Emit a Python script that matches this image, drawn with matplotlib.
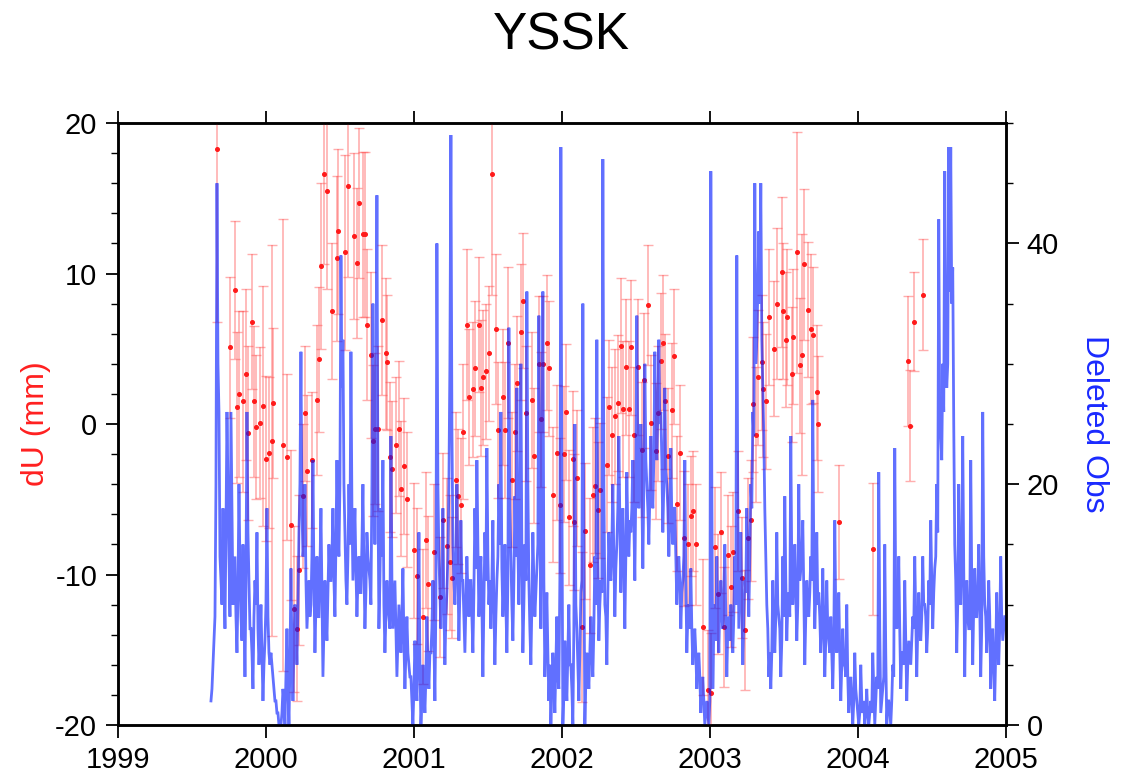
import numpy as np
import matplotlib.pyplot as plt
from matplotlib.ticker import MultipleLocator

plt.rcParams['font.family'] = ['Liberation Sans', 'DejaVu Sans']
plt.rcParams['axes.unicode_minus'] = False

# dU solutions (decimal year, mm, 1-sigma mm)
du_time = [1999.669, 1999.757, 1999.791, 1999.804, 1999.818, 1999.845, 1999.865, 1999.878,
           1999.905, 1999.919, 1999.932, 1999.959, 1999.980, 2000.000, 2000.020, 2000.037,
           2000.047, 2000.115, 2000.142, 2000.169, 2000.189, 2000.209, 2000.223, 2000.250,
           2000.264, 2000.277, 2000.311, 2000.345, 2000.358, 2000.372, 2000.392, 2000.412,
           2000.446, 2000.480, 2000.486, 2000.534, 2000.554, 2000.595, 2000.615, 2000.628,
           2000.655, 2000.669, 2000.682, 2000.709, 2000.723, 2000.736, 2000.757, 2000.784,
           2000.811, 2000.818, 2000.838, 2000.851, 2000.878, 2000.899, 2000.912, 2000.932,
           2000.953, 2001.000, 2001.020, 2001.061, 2001.081, 2001.095, 2001.135, 2001.176,
           2001.196, 2001.223, 2001.243, 2001.257, 2001.284, 2001.297, 2001.318, 2001.331,
           2001.358, 2001.372, 2001.399, 2001.412, 2001.439, 2001.453, 2001.466, 2001.486,
           2001.507, 2001.527, 2001.554, 2001.568, 2001.601, 2001.615, 2001.635, 2001.662,
           2001.682, 2001.696, 2001.723, 2001.736, 2001.757, 2001.797, 2001.811, 2001.845,
           2001.858, 2001.872, 2001.899, 2001.912, 2001.939, 2001.966, 2001.986, 2002.014,
           2002.027, 2002.047, 2002.074, 2002.081, 2002.101, 2002.135, 2002.155, 2002.189,
           2002.209, 2002.223, 2002.243, 2002.257, 2002.304, 2002.318, 2002.338, 2002.358,
           2002.378, 2002.399, 2002.412, 2002.432, 2002.453, 2002.466, 2002.486, 2002.514,
           2002.541, 2002.554, 2002.581, 2002.601, 2002.635, 2002.649, 2002.669, 2002.682,
           2002.696, 2002.716, 2002.743, 2002.757, 2002.777, 2002.797, 2002.824, 2002.851,
           2002.872, 2002.885, 2002.905, 2002.953, 2002.986, 2003.007, 2003.034, 2003.054,
           2003.074, 2003.095, 2003.122, 2003.142, 2003.155, 2003.189, 2003.216, 2003.236,
           2003.257, 2003.277, 2003.291, 2003.311, 2003.324, 2003.351, 2003.358, 2003.378,
           2003.399, 2003.432, 2003.453, 2003.486, 2003.493, 2003.514, 2003.520, 2003.554,
           2003.561, 2003.588, 2003.608, 2003.622, 2003.635, 2003.662, 2003.682, 2003.696,
           2003.723, 2003.730, 2003.872, 2004.101, 2004.338, 2004.351, 2004.378, 2004.439]
du_mm = [18.3, 5.1, 8.9, 1.1, 2.0, 1.5, 3.3, -0.6,
         6.8, 1.5, -0.2, 0.1, 1.2, -2.3, -1.9, -1.1,
         1.4, -1.4, -2.2, -6.7, -12.3, -13.6, -9.7, -4.8,
         0.7, -3.1, -2.4, 1.6, 4.3, 10.5, 16.6, 15.5,
         7.5, 11.0, 12.8, 11.4, 15.8, 12.5, 10.7, 14.7,
         12.6, 12.6, 6.6, 4.6, -1.1, -0.3, -0.3, 6.9,
         4.7, 4.1, -2.2, -3.0, -1.4, -0.3, -4.3, -2.8,
         -5.0, -8.4, -10.1, -12.8, -7.7, -10.6, -8.5, -11.5,
         -6.4, -8.1, -9.2, -10.2, -3.7, -4.8, -5.4, -0.5,
         6.6, 1.8, 2.3, 3.7, 6.6, 2.4, 3.1, 3.5,
         4.7, 16.6, 6.3, -0.4, 1.8, -0.4, 5.4, -3.7,
         -0.5, 2.7, 6.1, 8.2, 0.7, 1.6, -2.1, 4.0,
         0.3, 4.0, 5.4, 3.7, -4.7, -1.9, -5.4, -2.0,
         0.8, -6.2, -2.3, -6.5, -3.6, -13.5, -7.1, -9.4,
         -4.7, -4.1, -5.7, -4.4, -2.7, 1.1, -0.7, 0.5,
         1.4, 5.2, 1.0, 3.8, 1.0, 5.1, -0.7, 3.8,
         -1.7, 2.9, 7.9, 0.1, -1.8, 0.7, 4.2, 5.4,
         1.5, -2.1, 0.9, 4.5, -5.3, -1.9, -7.6, -8.0,
         -6.1, -5.8, -8.0, -13.5, -17.7, -17.9, -8.2, -11.3,
         -7.2, -13.5, -8.7, -10.8, -8.5, -5.8, -10.2, -13.7,
         -7.6, -6.4, 1.3, -0.7, 3.1, 4.1, 2.3, 1.5,
         7.1, 5.0, 8.0, 10.1, 7.5, 5.6, 7.1, 3.3,
         5.8, 11.4, 3.9, 4.6, 10.6, 7.6, 6.3, 5.9,
         2.1, 0.0, -6.5, -8.3, 4.2, -0.1, 6.8, 8.6]
du_err = [11.5, 4.7, 4.6, 5.0, 5.5, 6.0, 5.7, 5.8,
          4.5, 5.0, 4.8, 5.0, 8.0, 5.5, 5.0, 13.0,
          5.0, 15.0, 5.5, 5.0, 5.5, 4.8, 5.0, 4.8,
          4.5, 5.0, 4.5, 5.0, 4.8, 5.5, 6.0, 6.5,
          4.5, 5.5, 5.5, 6.5, 6.0, 5.5, 5.0, 5.0,
          5.5, 5.5, 5.0, 5.5, 5.0, 5.0, 5.5, 5.0,
          5.0, 4.5, 5.0, 4.5, 4.5, 4.5, 4.5, 4.5,
          4.5, 4.5, 4.5, 4.5, 4.5, 4.5, 4.5, 4.0,
          4.5, 4.5, 4.5, 4.0, 4.5, 4.5, 4.5, 4.5,
          5.0, 4.5, 4.5, 4.5, 4.5, 4.5, 4.5, 4.5,
          4.5, 8.0, 5.0, 4.5, 4.5, 4.5, 5.0, 4.5,
          4.5, 4.5, 4.5, 4.5, 4.5, 4.5, 4.5, 4.5,
          4.5, 4.5, 4.5, 4.5, 4.5, 4.5, 4.5, 4.5,
          4.5, 4.5, 4.5, 4.5, 4.5, 5.0, 4.5, 4.5,
          4.5, 4.5, 4.5, 4.5, 4.5, 4.5, 4.5, 4.5,
          4.5, 4.5, 4.5, 4.5, 4.5, 4.5, 4.5, 4.5,
          4.5, 4.5, 4.0, 4.5, 4.5, 4.5, 4.5, 4.5,
          4.5, 4.5, 4.5, 4.5, 4.5, 4.5, 4.5, 4.0,
          4.0, 4.0, 4.0, 4.5, 4.0, 4.0, 4.0, 4.0,
          4.0, 4.0, 4.0, 4.0, 4.0, 4.0, 4.0, 4.0,
          4.0, 4.0, 4.5, 4.5, 4.5, 4.5, 4.5, 4.5,
          4.5, 4.5, 5.0, 5.0, 4.5, 4.5, 4.5, 4.5,
          4.5, 8.0, 4.5, 8.0, 5.0, 4.5, 5.0, 4.5,
          4.5, 4.5, 3.8, 4.4, 4.3, 3.7, 3.3, 3.7]

# deleted observations, one sample every ~5 days from 1999.628
obs_start = 1999.628
obs_step = 0.01351
deleted_obs = [2, 5, 9, 45, 26, 12, 18, 8, 26, 14,
               26, 10, 14, 6, 20, 9, 15, 4, 26, 12,
               8, 3, 12, 16, 5, 10, 2, 7, 18, 6,
               6, 4, 2, 1, 0, 0, 3, 0, 8, 0,
               13, 2, 10, 5, 16, 31, 14, 20, 8, 12,
               10, 22, 6, 14, 9, 18, 4, 12, 7, 15,
               12, 18, 9, 22, 14, 39, 32, 16, 10, 20,
               31, 12, 18, 9, 14, 11, 20, 8, 16, 13,
               10, 35, 15, 44, 8, 18, 22, 6, 12, 9,
               24, 8, 12, 4, 10, 6, 13, 3, 9, 5,
               4, 0, 7, 2, 16, 0, 5, 1, 9, 3,
               6, 12, 2, 40, 14, 8, 18, 5, 11, 20,
               49, 15, 10, 20, 7, 17, 12, 6, 14, 9,
               12, 6, 18, 22, 9, 14, 4, 16, 23, 10,
               8, 17, 5, 12, 20, 26, 9, 15, 6, 33,
               14, 7, 19, 28, 10, 30, 6, 15, 36, 12,
               5, 16, 9, 13, 34, 8, 36, 4, 11, 2,
               0, 6, 1, 9, 3, 48, 0, 7, 2, 10,
               5, 0, 25, 8, 2, 11, 35, 0, 6, 3,
               9, 4, 14, 32, 7, 12, 47, 10, 5, 16,
               12, 20, 9, 15, 24, 11, 18, 8, 21, 14,
               16, 22, 12, 34, 18, 25, 13, 30, 20, 15,
               24, 18, 31, 22, 32, 26, 16, 28, 20, 14,
               23, 15, 18, 10, 14, 8, 12, 22, 6, 10,
               13, 5, 8, 3, 6, 1, 4, 0, 2, 0,
               46, 3, 10, 14, 6, 12, 8, 15, 4, 9,
               10, 6, 14, 39, 8, 16, 5, 12, 18, 9,
               20, 26, 45, 32, 41, 45, 28, 18, 10, 4,
               3, 12, 6, 16, 9, 4, 14, 19, 7, 11,
               24, 10, 15, 7, 20, 13, 17, 5, 12, 9,
               14, 27, 8, 16, 11, 6, 13, 4, 12, 7,
               9, 3, 17, 6, 11, 2, 8, 5, 10, 1,
               4, 0, 6, 2, 0, 5, 1, 0, 3, 0,
               2, 6, 0, 4, 21, 1, 3, 15, 0, 2,
               0, 5, 23, 8, 14, 3, 6, 12, 2, 7,
               5, 9, 14, 4, 11, 7, 14, 10, 6, 12,
               17, 8, 13, 20, 42, 24, 30, 46, 28, 48,
               48, 38, 15, 6, 20, 10, 24, 4, 12, 8,
               22, 5, 13, 9, 15, 4, 26, 10, 6, 12,
               3, 8, 2, 11, 5, 14, 7, 9]
# the days in between the samples above
deleted_obs_mid = [3, 7, 20, 30, 14, 10, 12, 16, 20, 9,
                   18, 12, 9, 11, 13, 7, 10, 12, 16, 8,
                   6, 9, 10, 8, 7, 6, 5, 10, 9, 5,
                   5, 3, 2, 1, 0, 1, 2, 4, 3, 5,
                   6, 7, 8, 10, 20, 18, 15, 12, 10, 9,
                   14, 12, 10, 9, 13, 11, 8, 9, 11, 12,
                   14, 12, 15, 16, 20, 28, 20, 12, 14, 15,
                   18, 15, 13, 12, 11, 15, 13, 11, 14, 12,
                   20, 22, 25, 20, 12, 14, 10, 9, 10, 8,
                   12, 10, 8, 7, 8, 9, 7, 6, 6, 4,
                   2, 3, 4, 6, 5, 2, 3, 4, 5, 6,
                   8, 7, 10, 20, 11, 12, 10, 9, 14, 30,
                   25, 12, 14, 13, 11, 12, 9, 10, 11, 12,
                   9, 11, 13, 15, 12, 10, 10, 12, 14, 12,
                   12, 10, 9, 14, 15, 13, 12, 10, 12, 18,
                   10, 12, 14, 15, 16, 14, 10, 12, 20, 8,
                   10, 12, 11, 15, 18, 20, 12, 8, 6, 5,
                   3, 4, 5, 4, 12, 20, 3, 4, 6, 5,
                   3, 8, 10, 5, 6, 12, 15, 4, 5, 6,
                   6, 8, 10, 14, 10, 11, 20, 9, 11, 13,
                   15, 14, 13, 18, 17, 15, 13, 14, 16, 17,
                   18, 17, 20, 22, 21, 19, 20, 22, 18, 19,
                   20, 22, 24, 26, 25, 22, 20, 21, 18, 17,
                   17, 18, 14, 13, 12, 11, 14, 12, 9, 8,
                   8, 7, 6, 5, 4, 3, 2, 1, 1, 2,
                   20, 8, 7, 9, 10, 9, 11, 9, 8, 7,
                   8, 9, 10, 18, 12, 10, 9, 11, 13, 14,
                   18, 24, 30, 36, 35, 32, 24, 14, 8, 6,
                   6, 8, 9, 10, 8, 7, 9, 12, 10, 9,
                   13, 12, 11, 10, 12, 14, 11, 9, 10, 11,
                   12, 14, 11, 10, 9, 8, 9, 7, 8, 6,
                   6, 7, 9, 8, 6, 5, 5, 4, 4, 3,
                   2, 2, 3, 1, 1, 2, 2, 1, 1, 1,
                   1, 3, 2, 3, 8, 2, 4, 6, 2, 1,
                   2, 4, 10, 9, 8, 6, 5, 7, 5, 6,
                   7, 8, 9, 8, 8, 9, 10, 9, 8, 10,
                   12, 11, 14, 16, 25, 22, 26, 32, 30, 36,
                   35, 25, 12, 10, 12, 14, 13, 10, 9, 8,
                   12, 10, 9, 11, 10, 8, 14, 9, 8, 9,
                   6, 5, 6, 7, 8, 9, 8]

obs_all = np.empty(len(deleted_obs) + len(deleted_obs_mid))
obs_all[0::2] = deleted_obs
obs_all[1::2] = deleted_obs_mid
obs_time = obs_start + obs_step / 2 * np.arange(len(obs_all))

year_ticks = [1999, 2000, 2001, 2002, 2003, 2004, 2005]

fig = plt.figure(figsize=(11.22, 7.8), dpi=100)
ax = fig.add_axes([0.1052, 0.0705, 0.7914, 0.7718])
ax2 = ax.twinx()

ax.errorbar(du_time, du_mm, yerr=du_err, fmt='o', ms=2.6, color='#ff1a1a',
            ecolor=(1, 0.3, 0.3, 0.45), elinewidth=1.2, capsize=3.5, capthick=1.0,
            zorder=3)
ax2.plot(obs_time, obs_all, color='#0018ff', alpha=0.62, lw=2.0,
         solid_joinstyle='miter')

ax.set_xlim(1999, 2005)
ax.set_ylim(-20, 20)
ax2.set_ylim(0, 50)

ax.set_xticks(year_ticks)
ax.set_xticklabels([str(y) for y in year_ticks])
ax.yaxis.set_major_locator(MultipleLocator(10))
ax.yaxis.set_minor_locator(MultipleLocator(2))
ax2.yaxis.set_major_locator(MultipleLocator(20))
ax2.yaxis.set_minor_locator(MultipleLocator(5))

for a in (ax, ax2):
    for s in a.spines.values():
        s.set_linewidth(1.8)
    a.tick_params(which='major', direction='out', length=9, width=1.3, labelsize=21, pad=6)
    a.tick_params(which='minor', direction='out', length=5, width=1.0)
ax.tick_params(axis='x', top=True, which='major')

ax.set_ylabel('dU (mm)', color='#ff2020', fontsize=23, labelpad=3)
ax2.set_ylabel('Deleted Obs', color='#1a2aff', fontsize=23, rotation=-90, labelpad=36)
fig.suptitle('YSSK', fontsize=37, y=0.985)

fig.savefig('out.png', dpi=100)
